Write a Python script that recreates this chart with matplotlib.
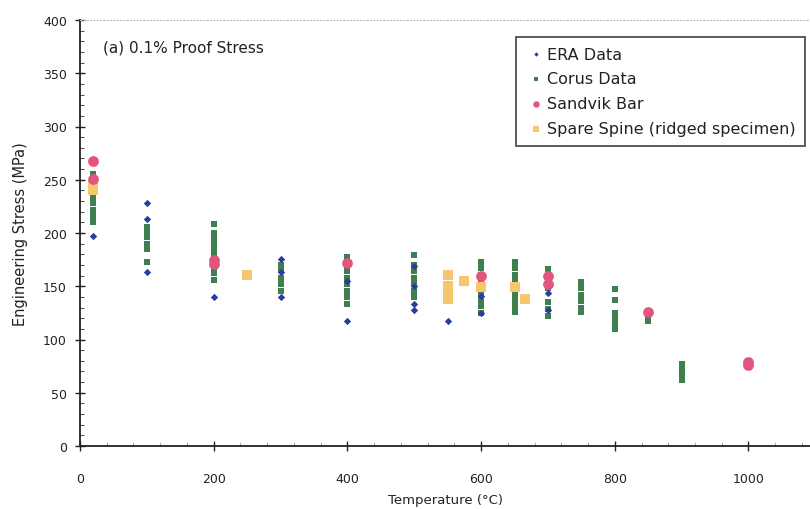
import matplotlib
matplotlib.use("Agg")
import matplotlib.pyplot as plt
from matplotlib.ticker import MultipleLocator

plt.rcParams['font.family'] = ['DejaVu Sans']

# ERA Data
era_t = [20, 100, 100, 100, 200, 300, 300, 300, 400, 400,
         500, 500, 500, 500, 550, 600, 600, 700, 700]
era_v = [197, 228, 213, 163, 140, 176, 163, 140, 155, 117,
         169, 150, 133, 128, 117, 141, 125, 144, 128]

# Corus Data
corus_t = ([20] * 9 + [100] * 6 + [200] * 10 + [300] * 5 + [400] * 8 +
           [500] * 7 + [600] * 9 + [650] * 9 + [700] * 7 + [750] * 6 +
           [800] * 6 + [850] * 2 + [900] * 4)
corus_v = [255, 250, 244, 233, 228, 222, 218, 214, 210,
           206, 201, 196, 190, 185, 173,
           208, 200, 195, 190, 185, 180, 175, 168, 162, 156,
           170, 165, 158, 152, 146,
           177, 170, 164, 158, 152, 146, 140, 133,
           179, 170, 164, 158, 152, 146, 140,
           173, 167, 161, 155, 149, 143, 137, 131, 125,
           173, 167, 161, 155, 149, 143, 137, 131, 126,
           166, 160, 154, 148, 135, 129, 122,
           154, 148, 142, 136, 130, 126,
           147, 137, 125, 120, 115, 110,
           122, 117,
           77, 72, 67, 62]

# Sandvik Bar
sandvik_t = [20, 20, 200, 200, 400, 600, 700, 700, 850, 1000, 1000]
sandvik_v = [268, 251, 175, 171, 172, 160, 160, 152, 126, 79, 76]

# Spare Spine (ridged specimen)
spare_t = [20, 20, 250, 550, 550, 550, 550, 575, 600, 650, 665]
spare_v = [244, 240, 161, 161, 150, 144, 138, 155, 149, 149, 138]

fig = plt.figure(figsize=(8.1, 5.1), dpi=100)
ax = fig.add_axes([80 / 810, 63 / 510, 730 / 810, 426 / 510])

h_era = ax.scatter(era_t, era_v, marker='D', s=14, color='#2a3d9e', zorder=3,
                   linewidths=0, label='ERA Data')
h_cor = ax.scatter(corus_t, corus_v, marker='s', s=24, color='#3f7f4f', zorder=2,
                   linewidths=0, label='Corus Data')
h_san = ax.scatter(sandvik_t, sandvik_v, marker='o', s=60, color='#e2557f', zorder=5,
                   linewidths=0, label='Sandvik Bar')
h_spa = ax.scatter(spare_t, spare_v, marker='s', s=55, color='#f6c76c', zorder=4,
                   linewidths=0, label='Spare Spine (ridged specimen)')

ax.set_xlim(0, 1092)
ax.set_ylim(0, 400)
ax.xaxis.set_major_locator(MultipleLocator(200))
ax.xaxis.set_minor_locator(MultipleLocator(40))
ax.yaxis.set_major_locator(MultipleLocator(50))
ax.yaxis.set_minor_locator(MultipleLocator(10))
ax.tick_params(which='major', direction='inout', length=7, width=1.0,
               labelsize=9, colors='#222222', pad=6)
ax.tick_params(axis='x', which='major', pad=15)
ax.tick_params(which='minor', direction='in', length=3, width=0.8, colors='#555555')
ax.tick_params(axis='x', which='minor', colors='#aaaaaa')

for side in ['left', 'bottom']:
    ax.spines[side].set_linewidth(1.3)
    ax.spines[side].set_color('#222222')
ax.spines['right'].set_visible(False)
ax.spines['top'].set_color('#bbbbbb')
ax.spines['top'].set_linestyle((0, (1, 2)))
ax.spines['top'].set_linewidth(0.8)

ax.set_xlabel('Temperature (°C)', fontsize=9.5, color='#222222', labelpad=6)
ax.set_ylabel('Engineering Stress (MPa)', fontsize=10.5, color='#222222', labelpad=11)

ax.text(0.032, 0.955, '(a) 0.1% Proof Stress', transform=ax.transAxes,
        fontsize=11, color='#222222', va='top', ha='left')

leg = ax.legend(handles=[h_era, h_cor, h_san, h_spa],
                loc='upper right', bbox_to_anchor=(805 / 810, 1 - 38 / 510),
                bbox_transform=fig.transFigure, fontsize=11.5, frameon=True,
                fancybox=False, edgecolor='#111111', markerscale=0.6,
                handletextpad=0.1, handlelength=1.2, labelspacing=0.62,
                borderpad=0.6, borderaxespad=0)
leg.get_frame().set_linewidth(1.2)
for t in leg.get_texts():
    t.set_color('#222222')

fig.savefig('out.png', dpi=100)
